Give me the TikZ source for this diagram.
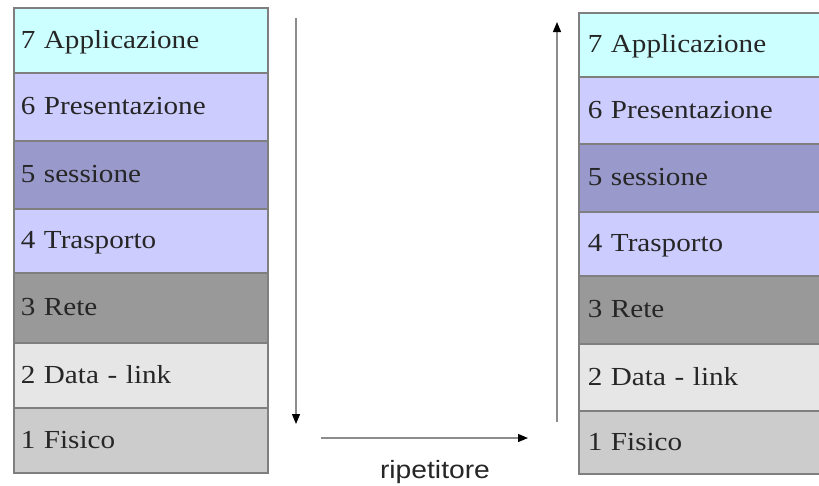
\documentclass[tikz,border=0pt]{standalone}
\usepackage{fontspec}
\setmainfont{Liberation Serif}[FakeStretch=1.12]
\newfontfamily\labelsans{Liberation Sans}[FakeStretch=1.13]
\usetikzlibrary{arrows.meta}
\definecolor{cseven}{HTML}{CCFFFF}
\definecolor{csix}{HTML}{CCCCFF}
\definecolor{cfive}{HTML}{9999CC}
\definecolor{cfour}{HTML}{CCCCFF}
\definecolor{cthree}{HTML}{999999}
\definecolor{ctwo}{HTML}{E6E6E6}
\definecolor{cone}{HTML}{CCCCCC}
\definecolor{edgegray}{HTML}{7F7F7F}
\definecolor{linegray}{HTML}{8C8C8C}
\begin{document}
\begin{tikzpicture}[x=1pt,y=-1pt,
  layer/.style={draw=edgegray, line width=1.5pt, rectangle, inner xsep=7pt, inner ysep=0pt,
    text width=240pt, minimum width=254pt, align=left, anchor=north west,
    font=\fontsize{26}{28}\selectfont, text=black!85, text height=20pt, text depth=4pt},
  rlayer/.style={layer, inner xsep=9pt, text width=240pt, minimum width=258pt},
  flow/.style={draw=linegray, line width=1.2pt, -{Triangle[length=10pt,width=8pt,color=black]}}]
\useasboundingbox (0,0) rectangle (819,485);
\fill[white] (0,0) rectangle (819,485);
% left stack
\node[layer, fill=cseven, minimum height=65pt] (L7) at (13,7) {7 Applicazione};
\node[layer, fill=csix, minimum height=68pt] (L6) at (13,72) {6 Presentazione};
\node[layer, fill=cfive, minimum height=68pt] (L5) at (13,140) {5 sessione};
\node[layer, fill=cfour, minimum height=64pt] (L4) at (13,208) {4 Trasporto};
\node[layer, fill=cthree, minimum height=70pt] (L3) at (13,272) {3 Rete};
\node[layer, fill=ctwo, minimum height=65pt] (L2) at (13,342) {2 Data - link};
\node[layer, fill=cone, minimum height=65pt] (L1) at (13,407) {1 Fisico};
% right stack (runs past the right edge)
\begin{scope}
\clip (0,0) rectangle (819,485);
\node[rlayer, fill=cseven, minimum height=64pt] (R7) at (578,12) {7 Applicazione};
\node[rlayer, fill=csix, minimum height=67pt] (R6) at (578,76) {6 Presentazione};
\node[rlayer, fill=cfive, minimum height=68pt] (R5) at (578,143) {5 sessione};
\node[rlayer, fill=cfour, minimum height=64pt] (R4) at (578,211) {4 Trasporto};
\node[rlayer, fill=cthree, minimum height=68pt] (R3) at (578,275) {3 Rete};
\node[rlayer, fill=ctwo, minimum height=67pt] (R2) at (578,343) {2 Data - link};
\node[rlayer, fill=cone, minimum height=63pt] (R1) at (578,410) {1 Fisico};
\end{scope}
% arrows
\coordinate (downA) at (296,18);
\coordinate (downB) at (296,424);
\coordinate (horA) at (321,438);
\coordinate (horB) at (528,438);
\coordinate (upA) at (557,422);
\coordinate (upB) at (557,22);
\draw[flow] (downA) -- (downB);
\draw[flow] (horA) -- (horB);
\draw[flow] (upA) -- (upB);
\node[anchor=base, inner sep=0pt, font=\labelsans\fontsize{25}{28}\selectfont, text=black!85] (rip) at (435,478) {ripetitore};
\end{tikzpicture}
\end{document}
